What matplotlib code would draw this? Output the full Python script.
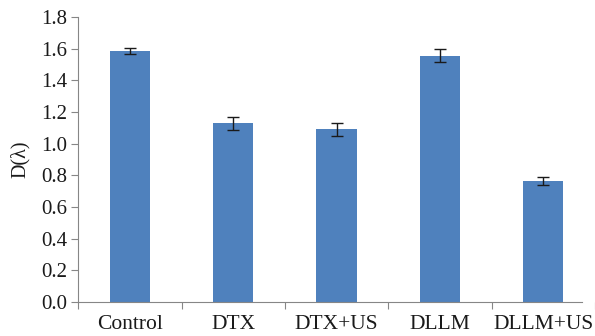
import matplotlib
matplotlib.use("Agg")
import numpy as np
import matplotlib.pyplot as plt

# values
groups = ["Control", "DTX", "DTX+US", "DLLM", "DLLM+US"]
means = [1.585, 1.129, 1.093, 1.556, 0.764]
errors = [0.019, 0.043, 0.041, 0.042, 0.025]
yticks = [0.0, 0.2, 0.4, 0.6, 0.8, 1.0, 1.2, 1.4, 1.6, 1.8]

plt.rcParams['font.family'] = ['Liberation Serif', 'DejaVu Serif']

fig = plt.figure(figsize=(5.95, 3.36), dpi=100)
ax = fig.add_axes([0.1316, 0.101, 0.8684, 0.848])

x = np.arange(len(groups))
ax.bar(x, means, width=0.39, color='#4F81BD', zorder=2)
ax.errorbar(x, means, yerr=errors, fmt='none', ecolor='#1a1a1a',
            elinewidth=1.0, capsize=4.5, capthick=1.0, zorder=3)

ax.set_xlim(-0.5, len(groups) - 0.5)
ax.set_ylim(0, 1.8)
ax.set_yticks(yticks)
ax.set_yticklabels([f"{v:.1f}" for v in yticks])

# category labels between boundary ticks
ax.set_xticks(np.arange(len(groups) + 1) - 0.5)
ax.set_xticklabels([])
ax.set_xticks(x, minor=True)
ax.set_xticklabels(groups, minor=True)
ax.tick_params(axis='x', which='minor', length=0, pad=9, labelsize=15.5,
               labelcolor='#1a1a1a')
ax.tick_params(axis='x', which='major', length=5, color='#868686')
ax.tick_params(axis='y', length=5, color='#868686', labelsize=15, pad=3,
               labelcolor='#1a1a1a')

for side in ['top', 'right']:
    ax.spines[side].set_visible(False)
for side in ['left', 'bottom']:
    ax.spines[side].set_color('#868686')
ax.spines['bottom'].set_bounds(-0.5, 4.37)

ax.set_ylabel("D(λ)", fontsize=14.5, labelpad=8, color='#1a1a1a')

fig.savefig("out.png", dpi=100)
